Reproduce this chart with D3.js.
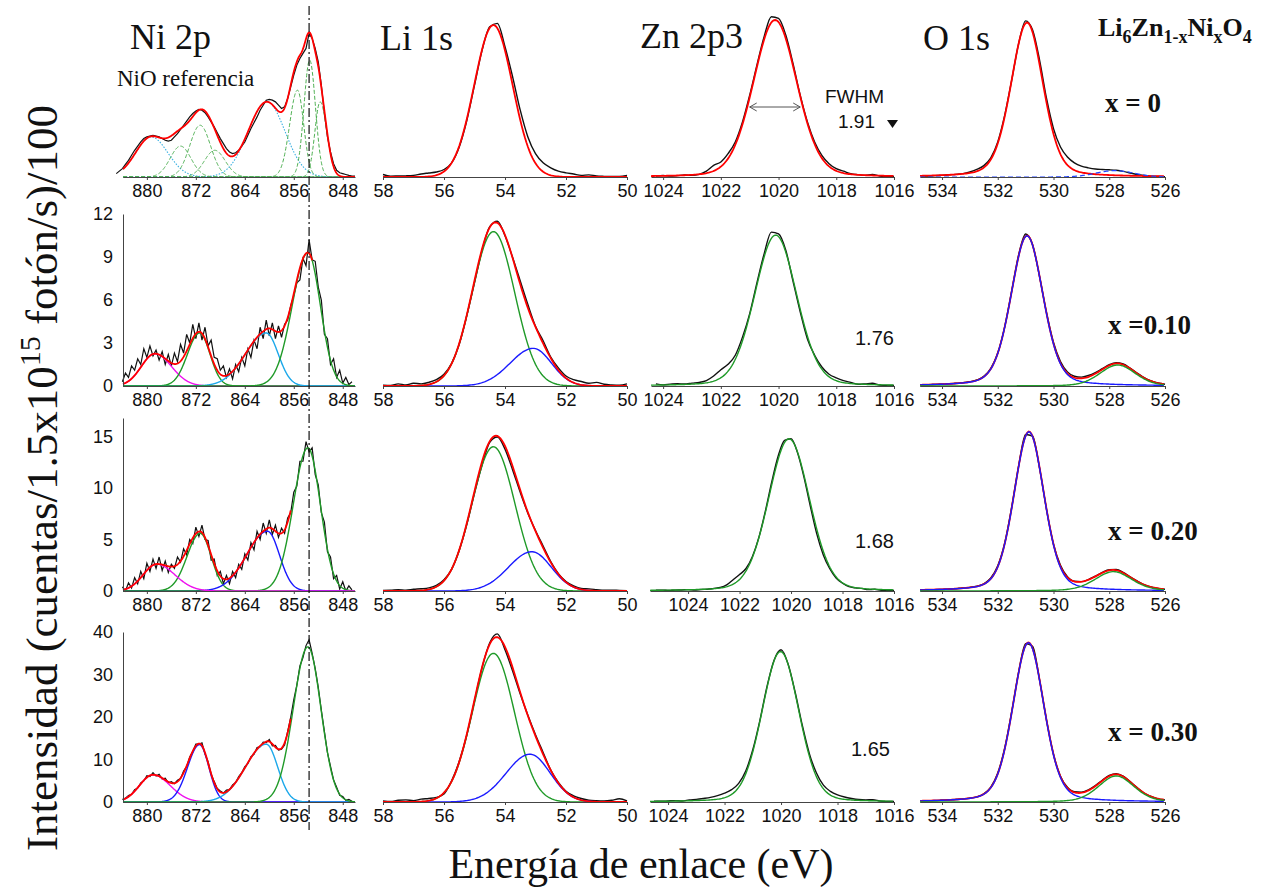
<!DOCTYPE html>
<html>
<head>
<meta charset="utf-8">
<script src="https://cdn.jsdelivr.net/npm/d3@7"></script>
<style>
  body { margin: 0; background: #fff; }
  svg { display: block; }
  .tick text { font-family: "Liberation Sans", Arial, sans-serif; font-size: 18px; fill: #111; }
  .domain, .tick line { stroke: #444; }
</style>
</head>
<body>
<svg width="1275" height="891"></svg>
<script>
const svg = d3.select("svg");
const serif = '"Liberation Serif","Times New Roman",serif';
const sans = '"Liberation Sans",Arial,sans-serif';

// measured spectra, one list per sample (x = 0, 0.10, 0.20, 0.30)
// Ni 2p: 0.5 eV steps going down from niStart
const niStart = [885, 884, 884, 884];
const niScan = [
  [2, 3.5, 5, 7.5, 10, 13, 16, 18.5, 21, 23, 24, 24.5, 25, 24.5, 24, 23, 22, 21.5, 22, 24,
   26, 28.5, 31, 33.5, 36, 38, 39.5, 40.5, 40, 38.5, 36, 33, 30, 26.5, 23, 20, 17, 15, 14, 14.5,
   16, 18.5, 21, 25, 29, 32.5, 36, 40, 43, 46, 46.5, 46, 45, 43, 41, 42, 47, 54, 61, 67,
   71, 74, 77, 86, 83, 77, 69, 55, 38, 24, 15, 8, 4, 2.5, 2, 1.5, 1, 0.6, 0.5],
  [0.3, 0.9, 0.6, 1.4, 1.1, 1.9, 1.5, 2.6, 2.0, 2.8, 2.1, 2.5, 1.8, 2.4, 1.5, 2.2, 1.4, 2.3, 1.7, 2.9,
   2.3, 3.6, 3.0, 4.3, 3.3, 4.4, 3.2, 4.1, 2.8, 3.2, 2.0, 1.9, 1.1, 1.4, 0.6, 1.2, 0.5, 1.5, 1.0, 2.0,
   1.4, 2.6, 2.0, 3.2, 2.6, 4.1, 3.3, 4.6, 3.5, 4.4, 3.3, 4.2, 3.4, 4.3, 4.6, 5.6, 6.3, 7.2, 7.4, 8.9,
   8.4, 10.2, 8.8, 8.7, 6.9, 6.0, 3.6, 3.3, 1.5, 1.9, 0.6, 1.1, 0.2, 0.6, 0.1, 0.3],
  [0.4, 0.0, 0.8, 0.3, 1.3, 0.7, 1.9, 1.2, 2.7, 1.9, 3.1, 2.2, 3.3, 2.0, 2.9, 1.8, 2.6, 2.2, 3.3, 2.8,
   4.1, 3.5, 5.0, 4.6, 6.2, 5.3, 6.4, 5.0, 4.9, 3.0, 3.1, 1.5, 1.9, 0.7, 1.5, 0.7, 1.9, 1.3, 2.6, 2.1,
   3.6, 3.0, 4.7, 4.0, 5.8, 5.0, 6.6, 5.6, 6.9, 5.5, 6.4, 5.2, 6.1, 5.6, 7.1, 7.6, 9.6, 10.2, 12.6, 12.6,
   14.5, 13.5, 13.9, 11.3, 10.3, 7.6, 6.7, 3.8, 3.3, 1.2, 1.5, 0.2, 0.9, 0.0, 0.5, 0.1],
  [0.6, 0.9, 1.5, 1.8, 2.9, 3.3, 4.5, 5.0, 6.2, 6.0, 6.9, 6.1, 6.5, 5.4, 5.6, 4.5, 4.8, 4.3, 5.1, 5.5,
   7.3, 8.3, 10.6, 11.9, 13.6, 13.6, 13.9, 11.3, 9.5, 6.6, 4.8, 3.2, 2.6, 2.1, 2.8, 2.9, 4.0, 4.6, 6.0, 6.9,
   8.3, 9.0, 10.7, 11.2, 12.8, 13.0, 14.1, 14.0, 14.7, 13.2, 13.3, 12.2, 12.4, 13.4, 16.6, 19.9, 24.1, 27.5, 32.0, 34.0,
   36.8, 38.2, 35.0, 31.4, 27.0, 21.6, 16.6, 11.6, 8.4, 5.2, 3.5, 1.6, 1.3, 0.4, 0.6, 0.2]
];

// Li 1s: 0.25 eV steps from 58 down to 50 (relative intensity)
const liScan = [
  [1.5, 0.5, 0.6, 0.7, 1.0, 1.8, 2.4, 3.0, 4.5, 8.5, 18, 34, 55, 76, 90, 92, 78, 60, 40, 24, 14, 8.5, 5.5, 3.5, 2.5, 1.8, 1.0, 1.3, 0.6, 0.4, 0.3, 0.3, 1.0],
  [0.5, 0.3, 1.2, 0.6, 1.5, 1.2, 2.0, 3.5, 6.5, 12.5, 23, 39, 57, 75, 88, 91, 83, 71, 58, 45, 33, 25, 16, 10, 5.5, 3.5, 2.5, 1.5, 2.0, 1.0, 0.6, 0.4, 1.2],
  [0.3, 0.4, 0.8, 0.5, 1.0, 1.3, 1.8, 3.2, 6.5, 12.5, 23.5, 38.5, 56.5, 73, 86, 89, 82, 70, 57, 45, 35, 26, 17, 10, 5.5, 3.0, 1.5, 1.2, 0.8, 0.4, 0.5, 0.3, 0.2],
  [0.6, 0.3, 1.0, 1.2, 0.8, 1.6, 2.0, 2.6, 4.5, 12, 23, 38, 57, 76, 90, 95, 86, 74, 61, 49, 38, 28, 18, 11, 6, 3.5, 2.0, 1.0, 0.7, 0.6, 1.0, 1.8, 0.6]
];

// Zn 2p3: 0.25 eV steps going down from znStart to 1016
const znStart = [1024.25, 1024.25, 1025.25, 1024.5];
const znScan = [
  [0.6, 0.9, 0.5, 0.8, 1.2, 1.0, 1.6, 3.5, 7, 9, 14, 21, 33, 49, 67, 84, 96, 95, 85, 68, 49, 33, 21, 13, 8, 5, 3.5, 2.0, 1.4, 1.0, 1.6, 0.6, 0.4, 0.3],
  [1.2, 0.6, 1.0, 1.3, 1.1, 1.6, 2.0, 3.0, 5.5, 9, 12, 17, 27, 40, 57, 73, 85, 84, 75, 58, 41, 26, 17, 10.5, 6.5, 4.5, 3.0, 2.0, 1.0, 1.2, 1.5, 0.5, 0.3, 0.3],
  [0.4, 0.5, 0.3, 0.5, 0.6, 0.8, 0.6, 0.9, 1.0, 1.5, 2.0, 3.5, 6.5, 9.5, 13, 20, 31, 46, 63, 78, 87, 88, 80, 66, 49, 33, 21, 13, 7.5, 4.5, 2.5, 1.8, 1.5, 0.8, 1.0, 0.4, 0.3, 0.3],
  [0.5, 0.4, 0.6, 0.8, 0.6, 1.2, 1.5, 2.0, 2.6, 3.6, 5.0, 7, 10.5, 17.5, 29.5, 46, 65, 80, 86, 78, 62, 43.5, 27.5, 16.5, 9.5, 6, 4.0, 2.8, 2.0, 1.4, 1.2, 1.3, 0.6, 0.3, 0.3]
];

// O 1s: 0.25 eV steps from 534.75 down to 526
const oScan = [
  [0.5, 0.6, 0.8, 1.0, 1.3, 1.6, 2.0, 3.0, 4.5, 6.8, 11.5, 21, 37, 58, 80, 93.5, 88, 70, 47, 29, 18, 12, 8.5, 6.5, 5.5, 4.8, 4.5, 4.3, 4.0, 3.4, 2.4, 1.5, 0.9, 0.5, 0.3, 0.2],
  [0.6, 0.7, 0.9, 1.0, 1.2, 1.5, 1.8, 2.4, 3.3, 5.3, 9.8, 18.2, 32.8, 52.5, 72.5, 84, 78, 60.5, 40.5, 24, 13.5, 7.8, 5.4, 4.9, 5.8, 7.4, 9.6, 11.8, 12.9, 12.2, 9.9, 7.2, 4.6, 2.8, 1.7, 1.0],
  [0.5, 0.6, 0.7, 0.9, 1.1, 1.3, 1.7, 2.1, 2.8, 4.2, 7.6, 14.6, 27.8, 48.5, 72.5, 90.5, 89.5, 71, 47.2, 27, 14.8, 8.2, 5.6, 5.4, 6.6, 8.6, 10.8, 12.3, 12.4, 10.8, 8.2, 5.8, 3.7, 2.3, 1.5, 1.0],
  [0.6, 0.7, 0.8, 1.0, 1.2, 1.4, 1.7, 2.2, 2.9, 4.6, 8.4, 16.4, 30.5, 51, 73.5, 89.5, 88, 69, 46.3, 27, 14.6, 8.3, 5.8, 5.6, 6.9, 9.3, 12.3, 15, 16, 14.6, 11.5, 8.1, 5.1, 3.1, 1.8, 1.1]
];

// fitted peaks: [centre eV, height, half width on high-eV side, half width on low-eV side, lorentz share]
const niPeaks = [
  [[879.3, 24, 3.0, 3.2, 0], [874.5, 18.5, 2.0, 2.0, 0], [871.3, 31, 2.0, 2.0, 0], [868.9, 16, 2.0, 2.0, 0],
   [860.4, 45, 3.6, 3.5, 0], [855.4, 52, 1.5, 1.2, 0], [853.4, 70, 1.1, 1.1, 0], [851.7, 45, 1.0, 1.3, 0]],
  [[878.7, 2.25, 2.6, 3.2, 0], [871.4, 3.7, 2.3, 2.0, 0], [860.5, 3.7, 4.0, 2.3, 0], [853.7, 9.3, 3.0, 2.4, 0]],
  [[871.3, 5.6, 2.5, 2.1, 0], [860.3, 5.8, 4.0, 2.3, 0], [853.7, 13.9, 2.8, 2.4, 0], [878.4, 2.6, 2.6, 3.5, 0]],
  [[879.0, 6.4, 2.6, 3.3, 0], [871.4, 13.5, 2.3, 1.8, 0], [860.5, 13.6, 4.0, 2.2, 0], [853.7, 36.5, 2.8, 2.5, 0]]
];
const liPeaks = [
  [[54.38, 91, 0.74, 0.74, 0]],
  [[54.38, 85.3, 0.82, 0.82, 0], [53.07, 20.8, 0.9, 0.7, 0]],
  [[54.38, 83.4, 0.83, 0.83, 0], [53.12, 22.7, 0.9, 0.75, 0]],
  [[54.38, 84, 0.81, 0.81, 0], [53.18, 27, 0.92, 0.78, 0]]
];
const znPeaks = [
  [[1020.12, 94, 0.89, 0.89, 0.15]],
  [[1020.1, 83.4, 0.86, 0.86, 0.15]],
  [[1020.08, 88, 0.94, 0.94, 0.15]],
  [[1020.02, 85, 0.77, 0.77, 0.15]]
];
const oPeaks = [
  [[530.95, 92.5, 0.68, 0.68, 0.25], [527.8, 3.8, 0.8, 0.8, 0]],
  [[530.95, 83, 0.68, 0.68, 0.25], [527.7, 11.6, 0.75, 0.75, 0.2]],
  [[530.88, 92, 0.64, 0.64, 0.25], [527.85, 11.2, 0.78, 0.78, 0.3]],
  [[530.9, 90, 0.66, 0.66, 0.25], [527.75, 14.7, 0.75, 0.75, 0.25]]
];

// line kind of every fitted peak
const niKinds = [["cd", "gd", "gd", "gd", "cd", "gd", "gd", "gd"], ["m", "g", "c", "g"], ["g", "b", "g", "m"], ["m", "b", "c", "g"]];
const liKinds = [["r"], ["g", "b"], ["g", "b"], ["g", "b"]];
const znKinds = [["r"], ["g"], ["g"], ["g"]];
const oKinds = [["r", "bd"], ["b", "g"], ["b", "g"], ["b", "g"]];

const sampleLabels = ["x = 0", "x =0.10", "x = 0.20", "x = 0.30"];
const fwhmLabels = ["1.91", "1.76", "1.68", "1.65"];
const niYMax = [100, 12, 16.8, 40];
const niYTicks = [[], [0, 3, 6, 9, 12], [0, 5, 10, 15], [0, 10, 20, 30, 40]];
const niTicks = [880, 872, 864, 856, 848];
const liTicks = [58, 56, 54, 52, 50];
const znTicks = [1024, 1022, 1020, 1018, 1016];
const oTicks = [534, 532, 530, 528, 526];
const niRef = 853.5;

const kindStyle = {
  r: { stroke: "#ff0000", width: 1.8 },
  g: { stroke: "#1f9a28", width: 1.4 },
  b: { stroke: "#1a1aff", width: 1.4 },
  c: { stroke: "#1ca8ea", width: 1.4 },
  m: { stroke: "#ee10ee", width: 1.4 },
  gd: { stroke: "#4caf50", width: 1, dash: "4,2" },
  cd: { stroke: "#3ab0e2", width: 1.1, dash: "1.5,1.5" },
  bd: { stroke: "#2244ff", width: 1.2, dash: "5,3" }
};

const rowBase = [177, 386, 591, 802];
const rowTop = [10, 205, 418, 625];

const niX = d3.scaleLinear().domain([883.9, 846]).range([123, 355]);
const liX = d3.scaleLinear().domain([58, 50]).range([383, 627]);
const znX = [
  d3.scaleLinear().domain([1024.42, 1016]).range([651, 894]),
  d3.scaleLinear().domain([1024.42, 1016]).range([651, 894]),
  d3.scaleLinear().domain([1025.48, 1016]).range([650, 894]),
  d3.scaleLinear().domain([1024.64, 1016]).range([650, 894])
];
const oX = d3.scaleLinear().domain([534.79, 526]).range([920, 1165]);

function shape(e, p) {
  const [c, h, wHi, wLo, eta] = p;
  const u = (e - c) / (e >= c ? wHi : wLo);
  return h * ((1 - eta) * Math.exp(-Math.LN2 * u * u) + eta / (1 + u * u));
}

function energies(x) {
  const [lo, hi] = d3.extent(x.domain());
  return d3.range(hi, lo - 0.001, -0.05);
}

function panel(row, x, y, o) {
  const g = svg.append("g");
  const es = energies(x);
  const fitLine = d3.line().x(d => x(d[0])).y(d => y(d[1]));
  const scanLine = d3.line().x(d => x(d[0])).y(d => y(d[1]))
    .curve(o.smooth ? d3.curveMonotoneX : d3.curveLinear);

  g.append("path")
    .datum(o.scan.map((v, i) => [o.start - i * o.step, v]))
    .attr("d", scanLine)
    .attr("fill", "none")
    .attr("stroke", "#111")
    .attr("stroke-width", o.smooth ? 1.4 : 1.2);

  const drawEnvelope = () => {
    if (o.envFrom === undefined) return;
    const pts = es.filter(e => e >= o.envFrom)
      .map(e => [e, d3.sum(o.peaks, p => shape(e, p))]);
    g.append("path").datum(pts).attr("d", fitLine)
      .attr("fill", "none").attr("stroke", "#ff0000").attr("stroke-width", 1.8);
  };

  if (!o.envOnTop) drawEnvelope();
  o.peaks.forEach((p, i) => {
    const s = kindStyle[o.kinds[i]];
    g.append("path")
      .datum(es.map(e => [e, shape(e, p)]))
      .attr("d", fitLine)
      .attr("fill", "none")
      .attr("stroke", s.stroke)
      .attr("stroke-width", s.width)
      .attr("stroke-dasharray", s.dash || null);
  });
  if (o.envOnTop) drawEnvelope();

  g.append("g")
    .attr("transform", `translate(0,${rowBase[row]})`)
    .call(d3.axisBottom(x).tickValues(o.ticks).tickFormat(d3.format("d"))
      .tickSize(3).tickSizeOuter(0).tickPadding(4));
}

const niEnvFrom = [846, 853, 856.5, 856.5];

d3.range(4).forEach(r => {
  const rel = d3.scaleLinear().domain([0, 100]).range([rowBase[r], rowTop[r]]);
  const niY = r === 0 ? rel : d3.scaleLinear().domain([0, niYMax[r]]).range([rowBase[r], rowTop[r]]);
  if (r === 3) niY.range([rowBase[r], 632]);
  if (r === 1) niY.range([rowBase[r], 214]);

  panel(r, niX, niY, {
    scan: niScan[r], start: niStart[r], step: 0.5, smooth: false,
    peaks: niPeaks[r], kinds: niKinds[r], envFrom: niEnvFrom[r], envOnTop: true, ticks: niTicks
  });
  if (r > 0) {
    svg.append("g")
      .attr("transform", `translate(${niX.range()[0]},0)`)
      .call(d3.axisLeft(niY).tickValues(niYTicks[r]).tickSize(0).tickPadding(10).tickSizeOuter(0));
  }

  panel(r, liX, rel, {
    scan: liScan[r], start: 58, step: 0.25, smooth: true,
    peaks: liPeaks[r], kinds: liKinds[r], envFrom: r > 0 ? 50 : undefined, envOnTop: true, ticks: liTicks
  });
  panel(r, znX[r], rel, {
    scan: znScan[r], start: znStart[r], step: 0.25, smooth: true,
    peaks: znPeaks[r], kinds: znKinds[r], ticks: znTicks
  });
  panel(r, oX, rel, {
    scan: oScan[r], start: 534.75, step: 0.25, smooth: true,
    peaks: oPeaks[r], kinds: oKinds[r], envFrom: r > 0 ? 526 : undefined, envOnTop: false, ticks: oTicks
  });
});

// reference line through the Ni 2p3/2 maximum
svg.append("line")
  .attr("x1", niX(niRef)).attr("x2", niX(niRef))
  .attr("y1", 6).attr("y2", 830)
  .attr("stroke", "#111").attr("stroke-width", 1.2)
  .attr("stroke-dasharray", "9,3,2,3");

// panel titles
const titles = [["Ni 2p", 130, 49], ["Li 1s", 380, 50], ["Zn 2p3", 640, 48], ["O 1s", 923, 50]];
titles.forEach(([t, x, y]) => {
  svg.append("text").attr("x", x).attr("y", y).text(t)
    .attr("font-family", serif).attr("font-size", 36).attr("fill", "#111");
});
svg.append("text").attr("x", 117).attr("y", 86).text("NiO referencia")
  .attr("font-family", serif).attr("font-size", 23).attr("fill", "#111");

// formula
const formula = svg.append("text").attr("x", 1098).attr("y", 36)
  .attr("font-family", serif).attr("font-size", 26).attr("font-weight", "bold").attr("fill", "#111");
[["Li", 0], ["6", 1], ["Zn", 0], ["1-x", 1], ["Ni", 0], ["x", 1], ["O", 0], ["4", 1]].forEach(([t, sub], i, arr) => {
  const prev = i > 0 ? arr[i - 1][1] : 0;
  formula.append("tspan").text(t)
    .attr("font-size", sub ? 18 : 26)
    .attr("dy", sub && !prev ? 7 : (!sub && prev ? -7 : 0));
});

const labelY = [112, 334, 540, 741];
const labelX = [1105, 1108, 1108, 1108];
sampleLabels.forEach((t, i) => {
  svg.append("text").attr("x", labelX[i]).attr("y", labelY[i]).text(t)
    .attr("font-family", serif).attr("font-size", 27).attr("font-weight", "bold").attr("fill", "#111");
});

// FWHM annotations
svg.append("text").attr("x", 825).attr("y", 103).text("FWHM")
  .attr("font-family", sans).attr("font-size", 19).attr("fill", "#111");
const fwhmY = [128, 345, 548, 756];
const fwhmX = [838, 855, 855, 851];
fwhmLabels.forEach((t, i) => {
  svg.append("text").attr("x", fwhmX[i]).attr("y", fwhmY[i]).text(t)
    .attr("font-family", sans).attr("font-size", i === 0 ? 19 : 20).attr("fill", "#111");
});
svg.append("path").attr("d", "M887,120 L898,120 L892.5,128 Z").attr("fill", "#111");

const ax1 = znX[0](1021.0), ax2 = znX[0](1019.25), ay = 107;
svg.append("line").attr("x1", ax1).attr("x2", ax2).attr("y1", ay).attr("y2", ay)
  .attr("stroke", "#555").attr("stroke-width", 1);
svg.append("path")
  .attr("d", `M${ax1 + 7},${ay - 4} L${ax1},${ay} L${ax1 + 7},${ay + 4} M${ax2 - 7},${ay - 4} L${ax2},${ay} L${ax2 - 7},${ay + 4}`)
  .attr("fill", "none").attr("stroke", "#555").attr("stroke-width", 1);

// axis titles
const yTitle = svg.append("text")
  .attr("transform", "translate(57,478) rotate(-90)")
  .attr("text-anchor", "middle")
  .attr("font-family", serif).attr("font-size", 45).attr("fill", "#111");
yTitle.append("tspan").text("Intensidad (cuentas/1.5x10");
yTitle.append("tspan").text("15").attr("font-size", 30).attr("dy", -17);
yTitle.append("tspan").text(" fotón/s)/100").attr("dy", 17);

svg.append("text").attr("x", 641).attr("y", 878).attr("text-anchor", "middle")
  .text("Energía de enlace (eV)")
  .attr("font-family", serif).attr("font-size", 42).attr("fill", "#111");
</script>
</body>
</html>
